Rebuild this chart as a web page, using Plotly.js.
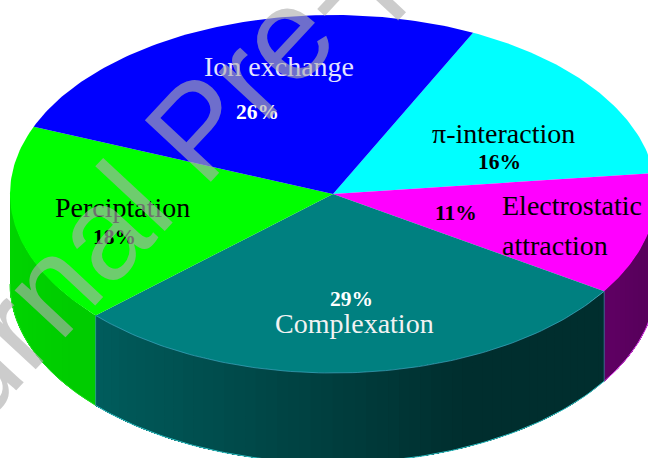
<!DOCTYPE html>
<html>
<head>
<meta charset="utf-8">
<script src="https://cdn.plot.ly/plotly-3.0.1.min.js"></script>
<style>html,body{margin:0;padding:0;background:#fff;overflow:hidden}#chart{width:648px;height:458px}</style>
</head>
<body>
<div id="chart"></div>
<script>
// Share of each removal mechanism, clockwise from the pi-interaction slice.
const categories = ['π-interaction', 'Electrostatic<br>attraction', 'Complexation', 'Perciptation', 'Ion exchange'];
const shares = [16, 11, 29, 18, 26];
const topColors = ['#00ffff', '#ff00ff', '#008080', '#00ff00', '#0000ff'];
// Wall shading per slice, from the right-hand end of the wall to the left-hand end.
const wallRight = [[0, 160, 160], [88, 0, 92], [0, 46, 46], [0, 204, 0], [0, 0, 160]];
const wallLeft = [[0, 160, 160], [96, 0, 100], [0, 92, 92], [0, 212, 0], [0, 0, 160]];
const edgeColors = ['#00ffff', '#e040f0', '#33c4c8', '#20e020', '#0000ff'];
const labelColors = ['#000000', '#000000', '#f2f2f2', '#000000', '#e4e4ff'];
const percentColors = ['#000000', '#000000', '#ffffff', '#000000', '#ffffff'];
const labelX = [503, 500, 354, 122, 279];
const labelY = [133, 205, 323, 207, 66];
const labelAnchor = ['center', 'left', 'center', 'center', 'center'];
const percentX = [499, 456, 351, 114, 257];
const percentY = [162, 213, 299, 237, 112];

// Disc geometry, in page pixels: top-face ellipse and wall height.
const cx = 333, cy = 194, rx = 323, ry = 179, depth = 90, startAngle = 25.7;
const rad = d => d * Math.PI / 180;
const px = a => cx + rx * Math.sin(rad(a));
const py = a => cy - ry * Math.cos(rad(a));

function arc(a0, a1, stepDeg) {
  const n = Math.max(1, Math.ceil(Math.abs(a1 - a0) / stepDeg));
  const out = [];
  for (let i = 0; i <= n; i++) out.push(a0 + (a1 - a0) * i / n);
  return out;
}

const traces = [];
const area = (x, y, color) => traces.push({
  type: 'scatter', mode: 'lines', x, y, fill: 'toself', fillcolor: color,
  line: {color, width: 0}, hoverinfo: 'skip', showlegend: false
});
const stroke = (x, y, color, width) => traces.push({
  type: 'scatter', mode: 'lines', x, y, line: {color, width}, hoverinfo: 'skip', showlegend: false
});

// Cumulative slice boundaries in degrees.
const bounds = [startAngle];
shares.forEach(v => bounds.push(bounds[bounds.length - 1] + v * 3.6));

// Front wall: each shade is painted from its own start to the slice end, so the
// next shade overlaps it and no seams open between the bands.
shares.forEach((v, i) => {
  const a0 = Math.max(bounds[i], 90), a1 = Math.min(bounds[i + 1], 270);
  if (a1 <= a0) return;
  const xr = px(a0), xl = px(a1);
  const steps = arc(a0, a1, 2);
  for (let k = 0; k < steps.length - 1; k++) {
    const s = arc(steps[k], a1, 1);
    const xs = s.map(px), ys = s.map(py);
    const t = ((xr - px((steps[k] + steps[k + 1]) / 2)) / (xr - xl));
    const u = Math.max(0, (t - 0.28) / 0.72);
    const c = wallRight[i].map((w, j) => Math.round(w + (wallLeft[i][j] - w) * u));
    area(xs.concat(xs.slice().reverse()), ys.concat(ys.map(y => y + depth).reverse()), `rgb(${c.join(',')})`);
  }
  const rim = arc(a0, a1, 1);
  stroke(rim.map(px), rim.map(a => py(a) + depth), edgeColors[i], 1);
  stroke([xr, xr], [py(a0), py(a0) + depth], 'rgba(70,170,200,0.7)', 0.8);
});

// Top face: one sector per share.
shares.forEach((v, i) => {
  const s = arc(bounds[i], bounds[i + 1], 1);
  area([cx].concat(s.map(px), [cx]), [cy].concat(s.map(py), [cy]), topColors[i]);
});
// Light seam where the teal face meets its wall.
const seam = arc(Math.max(bounds[2], 90), Math.min(bounds[3], 270), 1);
stroke(seam.map(px), seam.map(py), 'rgba(70,170,200,0.8)', 0.8);

const annotations = [];
const note = (text, x, y, size, color, bold, anchor) => annotations.push({
  text: bold ? `<b>${text}</b>` : text, x, y, xref: 'x', yref: 'y', showarrow: false,
  xanchor: anchor, yanchor: 'middle', align: anchor === 'left' ? 'left' : 'center',
  font: {family: '"Liberation Serif", serif', size, color}
});
categories.forEach((name, i) => {
  // Two-line names get a wider line gap than the default line height.
  name.split('<br>').forEach((line, k) => {
    note(line, labelX[i], labelY[i] + k * 40, 28, labelColors[i], false, labelAnchor[i]);
  });
  note(shares[i] + '%', percentX[i], percentY[i], 21.5, percentColors[i], true, 'center');
});
// Diagonal stamp laid over the whole chart.
annotations.push({
  text: 'Journal Pre-proof', x: 197, y: 129, xref: 'x', yref: 'y', showarrow: false,
  textangle: -47, xanchor: 'center', yanchor: 'middle',
  font: {family: '"Liberation Sans", Arial, sans-serif', size: 131, color: 'rgba(175,175,175,0.63)'}
});

const axis = {visible: false, fixedrange: true};
Plotly.newPlot('chart', traces, {
  width: 648, height: 458, margin: {l: 0, r: 0, t: 0, b: 0},
  paper_bgcolor: '#ffffff', plot_bgcolor: '#ffffff', showlegend: false,
  xaxis: Object.assign({range: [0, 648]}, axis),
  yaxis: Object.assign({range: [458, 0]}, axis),
  annotations
}, {displayModeBar: false, staticPlot: true});
</script>
</body>
</html>
